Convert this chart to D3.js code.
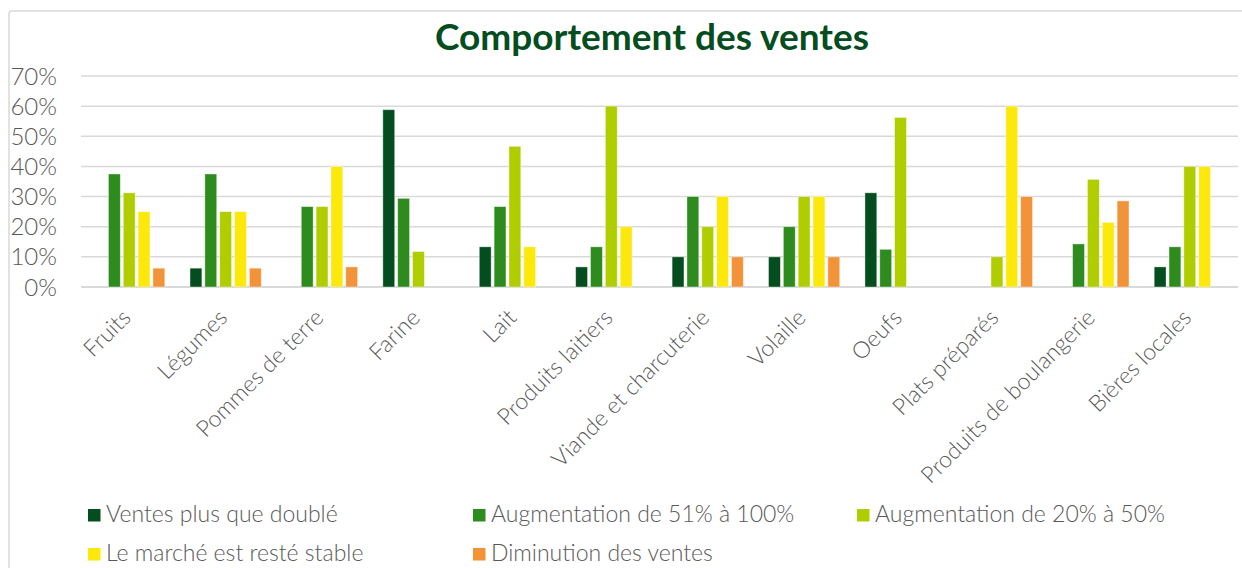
<!DOCTYPE html>
<html>
<head>
<meta charset="utf-8">
<script src="https://cdn.jsdelivr.net/npm/d3@7"></script>
<style>
  body { margin: 0; background: #fff; }
  svg { display: block; }
</style>
</head>
<body>
<svg id="chart"></svg>
<script>
const width = 1242;
const height = 568;

const categories = ["Fruits", "Légumes", "Pommes de terre", "Farine", "Lait", "Produits laitiers",
  "Viande et charcuterie", "Volaille", "Oeufs", "Plats préparés", "Produits de boulangerie", "Bières locales"];

const seriesNames = ["Ventes plus que doublé", "Augmentation de 51% à 100%", "Augmentation de 20% à 50%",
  "Le marché est resté stable", "Diminution des ventes"];

const seriesColors = ["#034d1e", "#2e8b1e", "#b0cd00", "#fde80b", "#f2933a"];

// one array per series, values in %
const doubled   = [0, 6.25, 0, 58.82, 13.33, 6.67, 10, 10, 31.25, 0, 0, 6.67];
const up51      = [37.5, 37.5, 26.67, 29.41, 26.67, 13.33, 30, 20, 12.5, 0, 14.29, 13.33];
const up20      = [31.25, 25, 26.67, 11.76, 46.67, 60, 20, 30, 56.25, 10, 35.71, 40];
const stable    = [25, 25, 40, 0, 13.33, 20, 30, 30, 0, 60, 21.43, 40];
const decreased = [6.25, 6.25, 6.67, 0, 0, 0, 10, 10, 0, 30, 28.57, 0];

const yTicks = [0, 10, 20, 30, 40, 50, 60, 70];

const series = [doubled, up51, up20, stable, decreased];

const margin = { left: 81, right: 4, top: 76, bottom: 281 };

const svg = d3.select('#chart')
  .attr('width', width)
  .attr('height', height);

// outer chart frame
svg.append('rect')
  .attr('x', 9).attr('y', 11)
  .attr('width', 1260).attr('height', 620)
  .attr('rx', 3)
  .attr('fill', 'none')
  .attr('stroke', '#d9d9d9')
  .attr('stroke-width', 1.5);

svg.append('text')
  .attr('x', 652)
  .attr('y', 50)
  .attr('text-anchor', 'middle')
  .attr('font-family', "Lato, 'Open Sans', sans-serif")
  .attr('font-weight', 'bold')
  .attr('font-size', 37)
  .attr('fill', '#034d1e')
  .text("Comportement des ventes");

const x0 = d3.scaleBand()
  .domain(categories)
  .range([margin.left, width - margin.right]);

const groupPad = 12.6;
const x1 = d3.scaleBand()
  .domain(d3.range(series.length))
  .range([groupPad, x0.bandwidth() - groupPad])
  .paddingInner(0.2);

const y = d3.scaleLinear()
  .domain([0, 70])
  .range([height - margin.bottom, margin.top]);

// gridlines
svg.append('g')
  .selectAll('line')
  .data(yTicks)
  .enter().append('line')
    .attr('x1', margin.left)
    .attr('x2', width - margin.right)
    .attr('y1', d => y(d))
    .attr('y2', d => y(d))
    .attr('stroke', '#d9d9d9')
    .attr('stroke-width', d => d === 0 ? 2 : 1.5);

// y labels
svg.append('g')
  .selectAll('text')
  .data(yTicks)
  .enter().append('text')
    .attr('x', 57)
    .attr('y', d => y(d))
    .attr('dy', '0.36em')
    .attr('text-anchor', 'end')
    .attr('font-family', "Lato, sans-serif")
    .attr('font-weight', 300)
    .attr('font-size', 24)
    .attr('fill', '#595959')
    .text(d => d + '%');

// bars
const groups = svg.append('g')
  .selectAll('g')
  .data(categories)
  .enter().append('g')
    .attr('transform', d => `translate(${x0(d)},0)`);

groups.selectAll('rect')
  .data((d, i) => series.map((s, k) => ({ k: k, v: s[i] })))
  .enter().append('rect')
    .attr('x', d => x1(d.k))
    .attr('width', x1.bandwidth())
    .attr('y', d => y(d.v))
    .attr('height', d => y(0) - y(d.v))
    .attr('fill', d => seriesColors[d.k])
    .attr('stroke', '#ffffff')
    .attr('stroke-opacity', 0.5)
    .attr('stroke-width', 0.8);

// category labels
svg.append('g')
  .selectAll('text')
  .data(categories)
  .enter().append('text')
    .attr('transform', d => `translate(${x0(d) + x0.bandwidth() / 2 + 3},${y(0) + 32}) rotate(-45)`)
    .attr('text-anchor', 'end')
    .attr('font-family', "Lato, sans-serif")
    .attr('font-weight', 300)
    .attr('font-size', 23)
    .attr('fill', '#595959')
    .text(d => d);

// legend
const legendX = [88, 473, 857];
const legendY = [521.5, 560.5];

const legend = svg.append('g')
  .selectAll('g')
  .data(seriesNames)
  .enter().append('g')
    .attr('transform', (d, i) => `translate(${legendX[i % 3]},${legendY[Math.floor(i / 3)]})`);

legend.append('rect')
  .attr('x', 0).attr('y', -12.5)
  .attr('width', 12.5).attr('height', 12.5)
  .attr('fill', (d, i) => seriesColors[i]);

legend.append('text')
  .attr('x', 18)
  .attr('y', 0)
  .attr('font-family', "Lato, sans-serif")
  .attr('font-weight', 300)
  .attr('font-size', 23)
  .attr('fill', '#595959')
  .text(d => d);
</script>
</body>
</html>
